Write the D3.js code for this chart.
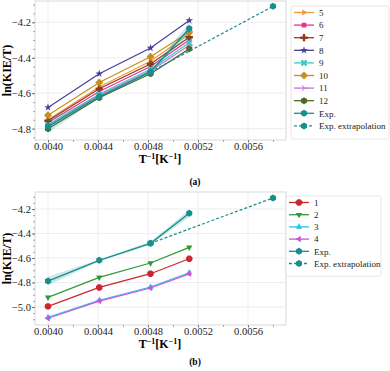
<!DOCTYPE html>
<html>
<head>
<meta charset="utf-8">
<script src="https://cdn.jsdelivr.net/npm/d3@7"></script>
<style>
  body { margin: 0; background: #fff; }
  svg { display: block; }
  svg text { font-family: "Liberation Serif", "Times New Roman", serif; }
</style>
</head>
<body>
<div id="chart"></div>
<script>
// inverse temperatures used for every computed series
const invT = [0.0040, 0.00441, 0.00482, 0.00513];
const extrapX = [0.00482, 0.0058];
const extrapY = [-4.48, -4.11];

// panel (a)
const namesA = ['5', '6', '7', '8', '9', '10', '11', '12'];
const valuesA = [
    [-4.750, -4.565, -4.420, -4.265],
    [-4.765, -4.590, -4.450, -4.300],
    [-4.755, -4.575, -4.435, -4.285],
    [-4.680, -4.490, -4.345, -4.190],
    [-4.780, -4.605, -4.465, -4.315],
    [-4.725, -4.540, -4.395, -4.255],
    [-4.790, -4.610, -4.475, -4.330],
    [-4.800, -4.625, -4.490, -4.350]
];

// panel (b)
const namesB = ['1', '2', '3', '4'];
const valuesB = [
    [-4.995, -4.840, -4.728, -4.606],
    [-4.921, -4.758, -4.641, -4.513],
    [-5.084, -4.945, -4.837, -4.720],
    [-5.092, -4.952, -4.845, -4.730]
];

// experiment with its uncertainty band
const expVals = [-4.788, -4.619, -4.480, -4.235];
const expErr = [0.035, 0.006, 0.012, 0.030];

const xTicks = [0.0040, 0.0044, 0.0048, 0.0052, 0.0056];
const yTicksA = [-4.8, -4.6, -4.4, -4.2];
const yTicksB = [-5.0, -4.8, -4.6, -4.4, -4.2];

const stylesA = [
    { color: '#f39a3b', marker: 'triRight' },
    { color: '#ef2f8c', marker: 'square' },
    { color: '#8e3b1e', marker: 'plus' },
    { color: '#4a3f98', marker: 'star' },
    { color: '#3fc8c8', marker: 'x' },
    { color: '#c68f1c', marker: 'diamond' },
    { color: '#c86fdc', marker: 'tri' },
    { color: '#4f6b25', marker: 'hex' }
];
const stylesB = [
    { color: '#c9282e', marker: 'oct' },
    { color: '#2f9a36', marker: 'triDown' },
    { color: '#25c3ee', marker: 'triUp' },
    { color: '#c657d6', marker: 'triLeft' }
];
const expColor = '#14908e';

const W = 390, H = 371;
const svg = d3.select('#chart').append('svg')
    .attr('width', W).attr('height', H);

function polygon(n, r, rot) {
    const pts = d3.range(n).map(i => {
        const a = rot + i * 2 * Math.PI / n;
        return [r * Math.cos(a), r * Math.sin(a)];
    });
    return 'M' + pts.map(p => p.join(',')).join('L') + 'Z';
}

function markerPath(kind) {
    switch (kind) {
        case 'square': return d3.symbol(d3.symbolSquare, 22)();
        case 'plus': return d3.symbol(d3.symbolCross, 30)();
        case 'star': return d3.symbol(d3.symbolStar, 18)();
        case 'x': return d3.symbol(d3.symbolCross, 28)();
        case 'diamond': return polygon(4, 4, 0);
        case 'hex': return polygon(6, 3.5, Math.PI / 6);
        case 'oct': return polygon(8, 3.5, Math.PI / 8);
        case 'triUp': return polygon(3, 3.6, -Math.PI / 2);
        case 'triDown': return polygon(3, 3.6, Math.PI / 2);
        case 'triLeft': return polygon(3, 3.6, Math.PI);
        case 'triRight': return polygon(3, 3.6, 0);
        case 'tri': return 'M0,0L3.5,0M0,0L-1.8,-3M0,0L-1.8,3';
    }
}

function drawMarker(g, kind, color, x, y) {
    const p = g.append('path')
        .attr('d', markerPath(kind))
        .attr('transform', `translate(${x},${y})` + (kind === 'x' ? ' rotate(45)' : ''));
    if (kind === 'tri') {
        p.attr('fill', 'none').attr('stroke', color).attr('stroke-width', 1);
    } else {
        p.attr('fill', color);
    }
}

function drawPanel(cfg) {
    const x = d3.scaleLinear().domain([0.003896, 0.005904]).range([35, 286]);
    const y = d3.scaleLinear().domain(cfg.yDomain).range([cfg.bottom, cfg.top]);
    const g = svg.append('g');

    // grid
    g.selectAll('.gx').data(xTicks).enter().append('line')
        .attr('x1', d => x(d)).attr('x2', d => x(d))
        .attr('y1', cfg.top).attr('y2', cfg.bottom)
        .attr('stroke', '#e8e8f0').attr('stroke-width', 0.8);
    g.selectAll('.gy').data(cfg.yTicks).enter().append('line')
        .attr('x1', 35).attr('x2', 286)
        .attr('y1', d => y(d)).attr('y2', d => y(d))
        .attr('stroke', '#e8e8f0').attr('stroke-width', 0.8);

    // axes
    const xAxis = d3.axisBottom(x).tickValues(xTicks)
        .tickFormat(d3.format('.4f')).tickSize(2.5).tickPadding(0);
    const xMinor = d3.axisBottom(x).tickValues(d3.range(0.0040, 0.0059, 0.0002))
        .tickFormat('').tickSize(1.6);
    const yAxis = d3.axisLeft(y).tickValues(cfg.yTicks)
        .tickFormat(d => d3.format('.1f')(d).replace('-', '\u2212')).tickSize(3).tickPadding(1);
    const yMinor = d3.axisLeft(y)
        .tickValues(d3.range(Math.ceil(cfg.yDomain[0] / 0.05) * 0.05, cfg.yDomain[1], 0.05))
        .tickFormat('').tickSize(1.6);

    [[xAxis, 'bottom'], [xMinor, 'bottom'], [yAxis, 'left'], [yMinor, 'left']].forEach(([ax, side]) => {
        const a = g.append('g')
            .attr('transform', side === 'bottom' ? `translate(0,${cfg.bottom})` : 'translate(35,0)')
            .call(ax);
        a.select('.domain').remove();
        a.attr('font-family', null);
        a.selectAll('line').attr('stroke', '#444').attr('stroke-width', 0.7);
        a.selectAll('text').attr('fill', '#222').style('font-size', '10.5px');
    });

    // frame
    g.append('rect')
        .attr('x', 35).attr('y', cfg.top)
        .attr('width', 251).attr('height', cfg.bottom - cfg.top)
        .attr('fill', 'none').attr('stroke', '#cfcfcf').attr('stroke-width', 0.8);

    const line = d3.line().x(d => x(d[0])).y(d => y(d[1]));

    // series
    cfg.names.forEach((n, i) => {
        const st = cfg.styles[i];
        const pts = invT.map((t, j) => [t, cfg.values[i][j]]);
        g.append('path').attr('d', line(pts))
            .attr('fill', 'none').attr('stroke', st.color).attr('stroke-width', 1.2);
        pts.forEach(p => drawMarker(g, st.marker, st.color, x(p[0]), y(p[1])));
    });

    // experiment band, line and extrapolation
    const area = d3.area()
        .x((d, j) => x(invT[j]))
        .y0((d, j) => y(d - expErr[j]))
        .y1((d, j) => y(d + expErr[j]));
    g.append('path').attr('d', area(expVals))
        .attr('fill', expColor).attr('opacity', 0.22);
    const expPts = invT.map((t, j) => [t, expVals[j]]);
    g.append('path').attr('d', line(expPts))
        .attr('fill', 'none').attr('stroke', expColor).attr('stroke-width', 1.3);
    expPts.forEach(p => drawMarker(g, 'hex', expColor, x(p[0]), y(p[1])));

    const exPts = extrapX.map((t, j) => [t, extrapY[j]]);
    g.append('path').attr('d', line(exPts))
        .attr('fill', 'none').attr('stroke', expColor).attr('stroke-width', 1.2)
        .attr('stroke-dasharray', '3,2');
    exPts.forEach(p => drawMarker(g, 'hex', expColor, x(p[0]), y(p[1])));

    // axis labels
    g.append('text')
        .attr('transform', `translate(11,${(cfg.top + cfg.bottom) / 2}) rotate(-90)`)
        .attr('text-anchor', 'middle')
        .style('font-size', '12px').style('font-weight', 'bold')
        .text('ln(KIE/T)');
    const xl = g.append('text')
        .attr('x', 160).attr('y', cfg.bottom + 23)
        .attr('text-anchor', 'middle')
        .style('font-size', '12px').style('font-weight', 'bold');
    xl.append('tspan').text('T');
    xl.append('tspan').attr('dy', -4.5).style('font-size', '8px').text('\u22121');
    xl.append('tspan').attr('dy', 4.5).text('[K');
    xl.append('tspan').attr('dy', -4.5).style('font-size', '8px').text('\u22121');
    xl.append('tspan').attr('dy', 4.5).text(']');

    g.append('text')
        .attr('x', 195).attr('y', cfg.tagY)
        .attr('text-anchor', 'middle')
        .style('font-size', '9.5px').style('font-weight', 'bold')
        .text(cfg.tag);

    // legend
    const L = cfg.legend;
    const entries = cfg.names.map((n, i) => ({ label: n, color: cfg.styles[i].color, marker: cfg.styles[i].marker, dash: false }))
        .concat([
            { label: 'Exp.', color: expColor, marker: 'hex', dash: false },
            { label: 'Exp. extrapolation', color: expColor, marker: 'hex', dash: true }
        ]);
    const lg = g.append('g');
    lg.append('rect')
        .attr('x', L.x).attr('y', L.y).attr('width', L.w)
        .attr('height', entries.length * L.step + 7)
        .attr('rx', 2).attr('fill', '#fff').attr('fill-opacity', 0.85)
        .attr('stroke', '#e0e0e0').attr('stroke-width', 0.8);
    entries.forEach((e, i) => {
        const cy = L.y + 6.5 + i * L.step;
        lg.append('line')
            .attr('x1', L.x + 3).attr('x2', L.x + 23)
            .attr('y1', cy).attr('y2', cy)
            .attr('stroke', e.color).attr('stroke-width', 1.3)
            .attr('stroke-dasharray', e.dash ? '3,2' : null);
        drawMarker(lg, e.marker, e.color, L.x + 13, cy);
        lg.append('text')
            .attr('x', L.x + 28).attr('y', cy + 3.3)
            .style('font-size', '9px').attr('fill', '#222')
            .text(e.label);
    });
}

drawPanel({
    top: 1, bottom: 140, yDomain: [-4.864, -4.080], yTicks: yTicksA,
    names: namesA, values: valuesA, styles: stylesA, tag: '(a)', tagY: 185,
    legend: { x: 291, y: 6, w: 98, step: 12.6 }
});
drawPanel({
    top: 192, bottom: 325, yDomain: [-5.147, -4.061], yTicks: yTicksB,
    names: namesB, values: valuesB, styles: stylesB, tag: '(b)', tagY: 365,
    legend: { x: 286, y: 196, w: 95, step: 12.2 }
});
</script>
</body>
</html>
